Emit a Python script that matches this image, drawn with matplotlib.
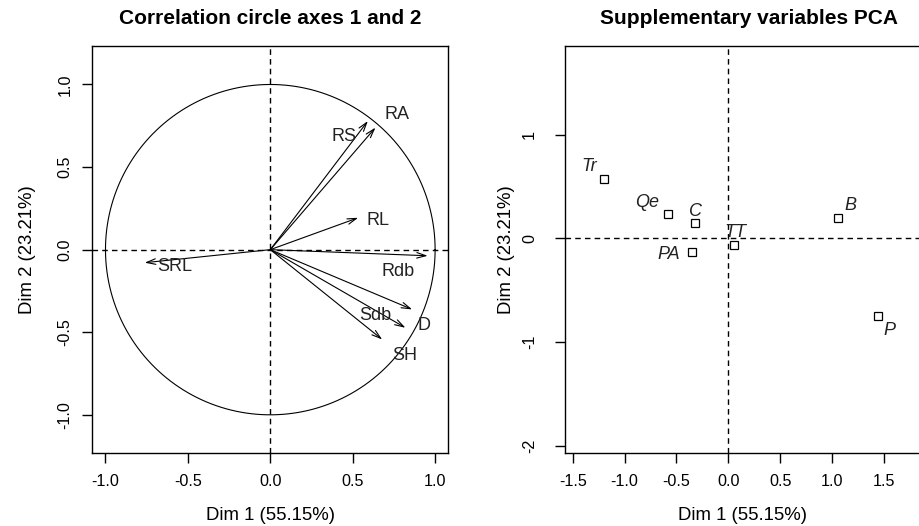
import numpy as np
import matplotlib
matplotlib.use("Agg")
import matplotlib.pyplot as plt

plt.rcParams['font.family'] = ['Liberation Sans', 'DejaVu Sans']

# variables actives : coordonnees sur les dimensions 1 et 2
var_names = ["RA", "RS", "RL", "Rdb", "D", "Sdb", "SH", "SRL"]
var_dim1 = [0.638, 0.592, 0.533, 0.955, 0.861, 0.820, 0.679, -0.762]
var_dim2 = [0.739, 0.779, 0.193, -0.037, -0.362, -0.473, -0.544, -0.079]

# variables supplementaires
sup_names = ["Tr", "Qe", "C", "PA", "TT", "B", "P"]
sup_dim1 = [-1.202, -0.579, -0.321, -0.350, 0.052, 1.061, 1.441]
sup_dim2 = [0.575, 0.231, 0.145, -0.135, -0.065, 0.199, -0.746]

xlab = "Dim 1 (55.15%)"
ylab = "Dim 2 (23.21%)"

# decalage des etiquettes (en unites des donnees)
var_lab_off = {"RA": (0.129, 0.077), "RS": (-0.142, -0.095), "RL": (0.119, -0.014),
               "Rdb": (-0.182, -0.093), "D": (0.070, -0.095), "Sdb": (-0.182, 0.077),
               "SH": (0.135, -0.095), "SRL": (0.182, -0.025)}
sup_lab_off = {"Tr": (-0.138, 0.115), "Qe": (-0.202, 0.116), "C": (0.0, 0.118),
               "PA": (-0.222, -0.016), "TT": (0.013, 0.123), "B": (0.113, 0.115),
               "P": (0.109, -0.141)}

W, H = 919, 526
fig = plt.figure(figsize=(W / 100, H / 100), dpi=100)

box_b = (H - 453.3) / H
box_h = (453.3 - 46) / H
ax1 = fig.add_axes([92.3 / W, box_b, 356 / W, box_h])
ax2 = fig.add_axes([565 / W, box_b, 356 / W, box_h])

dash = (0, (4, 3))

# ---- cercle des correlations
t = np.linspace(0, 2 * np.pi, 400)
ax1.plot(np.cos(t), np.sin(t), color="black", lw=0.8)
ax1.axhline(0, color="black", lw=1, ls=dash)
ax1.axvline(0, color="black", lw=1, ls=dash)
for name, x, y in zip(var_names, var_dim1, var_dim2):
    ax1.annotate("", xy=(x, y), xytext=(0, 0),
                 arrowprops=dict(arrowstyle="->,head_length=0.65,head_width=0.2",
                                 lw=0.8, color="black", shrinkA=0, shrinkB=0))
    dx, dy = var_lab_off[name]
    ax1.text(x + dx, y + dy, name, fontsize=13, color="#222222", ha="center", va="center")
ax1.set_xlim(-1.08, 1.08)
ax1.set_ylim(-1.233, 1.233)
ax1.set_xticks([-1.0, -0.5, 0.0, 0.5, 1.0])
ax1.set_yticks([-1.0, -0.5, 0.0, 0.5, 1.0])
ax1.set_xticklabels(["-1.0", "-0.5", "0.0", "0.5", "1.0"])
ax1.set_yticklabels(["-1.0", "-0.5", "0.0", "0.5", "1.0"], rotation=90, va="center")
ax1.tick_params(axis="x", pad=8)
ax1.tick_params(axis="y", pad=7)

# ---- variables supplementaires
ax2.axhline(0, color="black", lw=1, ls=dash)
ax2.axvline(0, color="black", lw=1, ls=dash)
ax2.plot(sup_dim1, sup_dim2, ls="none", marker="s", ms=6, mfc="white",
         mec="black", mew=0.9)
for name, x, y in zip(sup_names, sup_dim1, sup_dim2):
    dx, dy = sup_lab_off[name]
    ax2.text(x + dx, y + dy, name, fontsize=13, style="italic", color="#222222",
             ha="center", va="center")
ax2.set_xlim(-1.575, 1.858)
ax2.set_ylim(-2.07, 1.854)
ax2.set_xticks([-1.5, -1.0, -0.5, 0.0, 0.5, 1.0, 1.5])
ax2.set_xticklabels(["-1.5", "-1.0", "-0.5", "0.0", "0.5", "1.0", "1.5"])
ax2.set_yticks([-2, -1, 0, 1])
ax2.set_yticklabels(["-2", "-1", "0", "1"], rotation=90, va="center")
ax2.tick_params(axis="x", pad=8)
ax2.tick_params(axis="y", pad=13)

for ax, ycoord in ((ax1, -0.182), (ax2, -0.163)):
    for s in ax.spines.values():
        s.set_linewidth(1)
    ax.tick_params(direction="out", length=7.2, width=1, labelsize=11.6, colors="black")
    ax.set_xlabel(xlab, fontsize=13.4)
    ax.set_ylabel(ylab, fontsize=13.4)
    ax.xaxis.set_label_coords(0.5, (453.3 - 515) / 407.3)
    ax.xaxis.label.set_va("center")
    ax.yaxis.set_label_coords(ycoord, 0.5)
    ax.yaxis.label.set_va("center")

fig.text(270 / W, 1 - 18 / H, "Correlation circle axes 1 and 2", fontsize=15,
         fontweight="bold", ha="center", va="center")
fig.text(749 / W, 1 - 18 / H, "Supplementary variables PCA", fontsize=15,
         fontweight="bold", ha="center", va="center")

fig.savefig("out.png", dpi=100)
